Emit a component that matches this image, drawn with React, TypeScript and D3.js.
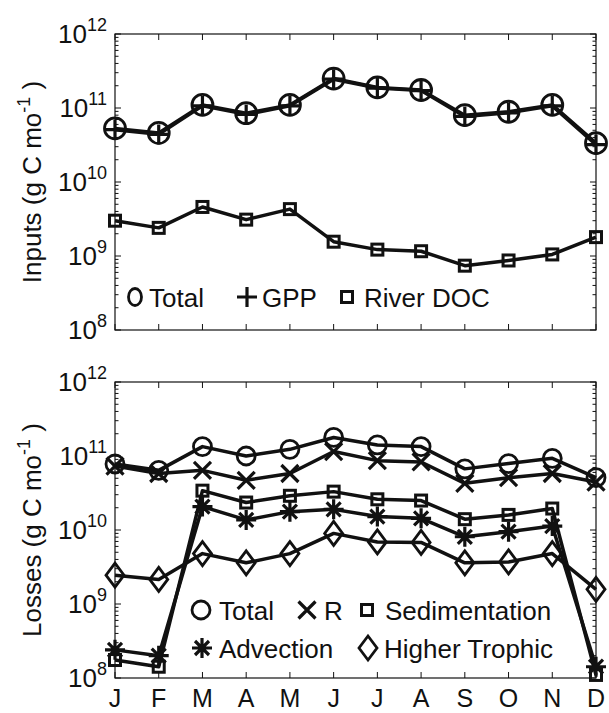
import React, { useEffect, useRef } from 'react';
import * as d3 from 'd3';

const months = ['J', 'F', 'M', 'A', 'M', 'J', 'J', 'A', 'S', 'O', 'N', 'D'];
const exponents = [8, 9, 10, 11, 12];

// Inputs panel (g C per month)
const inputTotal = [5.3e10, 4.6e10, 1.1e11, 8.5e10, 1.1e11, 2.5e11, 1.9e11, 1.75e11, 8.0e10, 8.9e10, 1.1e11, 3.35e10];
const inputGPP = [5.1e10, 4.4e10, 1.07e11, 8.2e10, 1.07e11, 2.45e11, 1.86e11, 1.72e11, 7.7e10, 8.6e10, 1.07e11, 3.2e10];
const inputRiverDOC = [3.0e9, 2.4e9, 4.6e9, 3.1e9, 4.3e9, 1.56e9, 1.22e9, 1.16e9, 7.4e8, 8.7e8, 1.05e9, 1.8e9];

// Losses panel
const lossTotal = [7.8e10, 6.4e10, 1.34e11, 1.0e11, 1.23e11, 1.78e11, 1.41e11, 1.34e11, 6.7e10, 7.9e10, 9.3e10, 5.1e10];
const lossR = [7.3e10, 5.8e10, 6.4e10, 4.7e10, 5.8e10, 1.15e11, 8.65e10, 8.3e10, 4.27e10, 5.1e10, 5.8e10, 4.45e10];
const lossSedimentation = [1.75e8, 1.42e8, 3.4e10, 2.35e10, 2.9e10, 3.3e10, 2.6e10, 2.5e10, 1.4e10, 1.6e10, 1.95e10, 1.1e8];
const lossAdvection = [2.4e8, 2.0e8, 2.07e10, 1.37e10, 1.77e10, 1.9e10, 1.52e10, 1.44e10, 8.1e9, 9.5e9, 1.13e10, 1.42e8];
const lossHigherTrophic = [2.45e9, 2.15e9, 4.8e9, 3.6e9, 4.8e9, 9.0e9, 6.9e9, 6.8e9, 3.6e9, 3.7e9, 4.8e9, 1.58e9];

const INK = '#111';
const FONT = '"Liberation Sans", Arial, sans-serif';

type Sel = d3.Selection<SVGGElement, unknown, null, undefined>;

// draws a MATLAB-like marker centred on (x, y)
const drawMarker = (g: Sel, type: string, x: number, y: number) => {
  const m = g.append('g').attr('fill', 'none').attr('stroke', INK).attr('stroke-width', 2.8);
  if (type === 'circle') {
    m.append('circle').attr('cx', x).attr('cy', y).attr('r', 9);
  } else if (type === 'smallcircle') {
    m.append('ellipse').attr('cx', x).attr('cy', y).attr('rx', 6.5).attr('ry', 8.5);
  } else if (type === 'bigcircle') {
    m.append('circle').attr('cx', x).attr('cy', y).attr('r', 10.5);
  } else if (type === 'plus') {
    m.append('path').attr('d', `M${x - 10},${y}H${x + 10}M${x},${y - 10}V${y + 10}`).attr('stroke-width', 3.2);
  } else if (type === 'square') {
    m.append('rect').attr('x', x - 5.5).attr('y', y - 5.5).attr('width', 11).attr('height', 11).attr('stroke-width', 3);
  } else if (type === 'x') {
    const s = 8.5;
    m.append('path').attr('d', `M${x - s},${y - s}L${x + s},${y + s}M${x - s},${y + s}L${x + s},${y - s}`).attr('stroke-width', 3.2);
  } else if (type === 'asterisk') {
    const s = 10, d = 7;
    m.append('path')
      .attr('d', `M${x - s},${y}H${x + s}M${x},${y - s}V${y + s}M${x - d},${y - d}L${x + d},${y + d}M${x - d},${y + d}L${x + d},${y - d}`)
      .attr('stroke-width', 3.2);
  } else if (type === 'diamond') {
    m.append('path').attr('d', `M${x},${y - 12}L${x + 9},${y}L${x},${y + 12}L${x - 9},${y}Z`);
  }
};

const App = () => {
  const ref = useRef<SVGSVGElement>(null);

  useEffect(() => {
    const svg = d3.select(ref.current);
    svg.selectAll('*').remove();

    const left = 115;
    const right = 596;
    const x = d3.scaleLinear().domain([0, months.length - 1]).range([left, right]);

    const panels = [
      {
        top: 34,
        bottom: 330,
        label: 'Inputs (g C mo',
        showX: false,
        series: [
          { values: inputTotal, marker: 'bigcircle' },
          { values: inputGPP, marker: 'plus' },
          { values: inputRiverDOC, marker: 'square' },
        ],
        legend: [
          { marker: 'smallcircle', text: 'Total', mx: 135, tx: 149, y: 297 },
          { marker: 'plus', text: 'GPP', mx: 247, tx: 262, y: 297 },
          { marker: 'square', text: 'River DOC', mx: 347, tx: 364, y: 297 },
        ],
      },
      {
        top: 382,
        bottom: 678,
        label: 'Losses (g C mo',
        showX: true,
        series: [
          { values: lossTotal, marker: 'circle' },
          { values: lossR, marker: 'x' },
          { values: lossSedimentation, marker: 'square' },
          { values: lossAdvection, marker: 'asterisk' },
          { values: lossHigherTrophic, marker: 'diamond' },
        ],
        legend: [
          { marker: 'circle', text: 'Total', mx: 201, tx: 219, y: 610 },
          { marker: 'x', text: 'R', mx: 307, tx: 324, y: 610 },
          { marker: 'square', text: 'Sedimentation', mx: 367, tx: 385, y: 610 },
          { marker: 'asterisk', text: 'Advection', mx: 202, tx: 219, y: 648 },
          { marker: 'diamond', text: 'Higher Trophic', mx: 368, tx: 384, y: 648 },
        ],
      },
    ];

    panels.forEach(p => {
      const y = d3.scaleLog().domain([1e8, 1e12]).range([p.bottom, p.top]);
      const g = svg.append('g') as unknown as Sel;

      // box
      g.append('rect')
        .attr('x', left).attr('y', p.top)
        .attr('width', right - left).attr('height', p.bottom - p.top)
        .attr('fill', 'none').attr('stroke', INK).attr('stroke-width', 1.2);

      // y ticks (major + minor), mirrored on both sides
      const ticks: { v: number; major: boolean }[] = [];
      exponents.forEach((e, i) => {
        ticks.push({ v: Math.pow(10, e), major: true });
        if (i < exponents.length - 1) {
          d3.range(2, 10).forEach(k => ticks.push({ v: k * Math.pow(10, e), major: false }));
        }
      });
      ticks.forEach(t => {
        const ty = y(t.v);
        const len = t.major ? 6 : 3.5;
        g.append('line').attr('x1', left).attr('x2', left + len).attr('y1', ty).attr('y2', ty)
          .attr('stroke', INK).attr('stroke-width', 1);
        g.append('line').attr('x1', right).attr('x2', right - len).attr('y1', ty).attr('y2', ty)
          .attr('stroke', INK).attr('stroke-width', 1);
      });

      // y tick labels 10^n
      exponents.forEach(e => {
        const t = g.append('text')
          .attr('x', 107).attr('y', y(Math.pow(10, e)) + 9)
          .attr('text-anchor', 'end')
          .style('font-family', FONT).style('font-size', '26px').attr('fill', INK);
        t.append('tspan').text('10');
        t.append('tspan').attr('dy', -12).style('font-size', '18px').text(String(e));
      });

      // x ticks top and bottom
      months.forEach((_, i) => {
        g.append('line').attr('x1', x(i)).attr('x2', x(i)).attr('y1', p.bottom).attr('y2', p.bottom - 6)
          .attr('stroke', INK).attr('stroke-width', 1);
        g.append('line').attr('x1', x(i)).attr('x2', x(i)).attr('y1', p.top).attr('y2', p.top + 6)
          .attr('stroke', INK).attr('stroke-width', 1);
      });

      if (p.showX) {
        months.forEach((m, i) => {
          g.append('text')
            .attr('x', x(i)).attr('y', 707)
            .attr('text-anchor', 'middle')
            .style('font-family', FONT).style('font-size', '25px').attr('fill', INK)
            .text(m);
        });
      }

      // y axis label
      const lab = g.append('text')
        .attr('transform', `translate(41,${(p.top + p.bottom) / 2}) rotate(-90)`)
        .attr('text-anchor', 'middle')
        .style('font-family', FONT).style('font-size', '26px').attr('fill', INK);
      lab.append('tspan').text(p.label);
      lab.append('tspan').attr('dy', -11).style('font-size', '18px').text('-1');
      lab.append('tspan').attr('dy', 11).text(' )');

      // series
      const line = d3.line<number>().x((_, i) => x(i)).y(v => y(v));
      p.series.forEach(s => {
        g.append('path')
          .datum(s.values)
          .attr('d', line)
          .attr('fill', 'none')
          .attr('stroke', INK)
          .attr('stroke-width', 3.5)
          .attr('stroke-linejoin', 'round');
        s.values.forEach((v, i) => drawMarker(g, s.marker, x(i), y(v)));
      });

      // legend
      p.legend.forEach(l => {
        drawMarker(g, l.marker, l.mx, l.y);
        g.append('text')
          .attr('x', l.tx).attr('y', l.y + 9.5)
          .style('font-family', FONT).style('font-size', '26px').attr('fill', INK)
          .text(l.text);
      });
    });
  }, []);

  return (
    <svg
      ref={ref}
      width={609}
      height={713}
      style={{ position: 'absolute', left: 0, top: 0, background: '#fff' }}
    />
  );
};

export default App;
